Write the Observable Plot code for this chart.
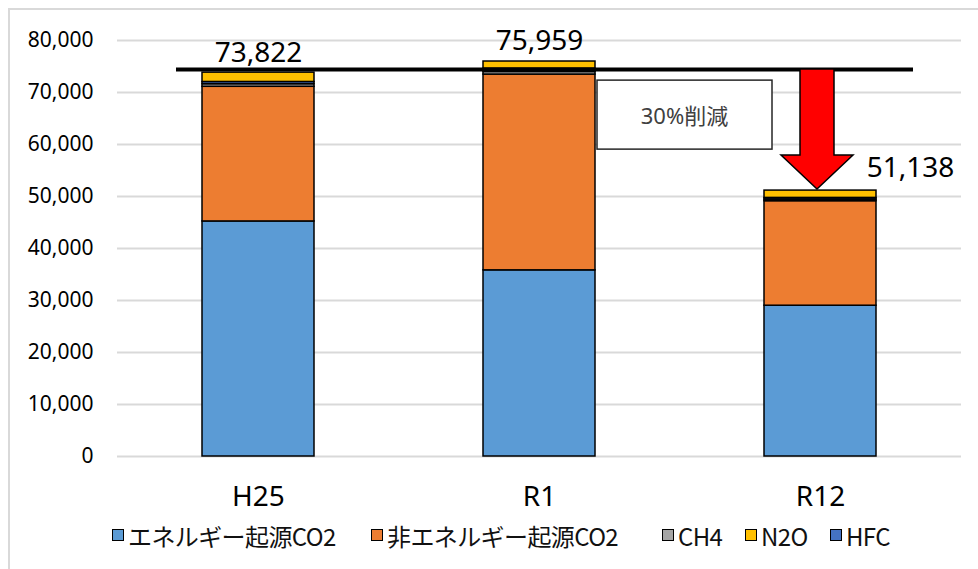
<!DOCTYPE html>
<html>
<head>
<meta charset="utf-8">
<script src="https://cdn.jsdelivr.net/npm/d3@7"></script>
<script src="https://cdn.jsdelivr.net/npm/@observablehq/plot@0.6"></script>
<style>
  html, body { margin: 0; padding: 0; background: #fff; }
  #frame { position: absolute; left: 8px; top: 8px; width: 1000px; height: 600px; border: 2px solid #d9d9d9; box-sizing: border-box; }
  #chart { position: absolute; left: 0; top: 0; }
  #legend { position: absolute; left: 0; top: 520px; width: 978px; height: 30px; font-family: "Noto Sans CJK JP", "Noto Sans", sans-serif; font-size: 24px; color: #111; }
  .item { position: absolute; top: 0; display: flex; align-items: center; height: 30px; white-space: nowrap; letter-spacing: -0.6px; }
  .sw { width: 10px; height: 10px; border: 1.5px solid #000; margin-right: 4px; }
</style>
</head>
<body>
<div id="frame"></div>
<div id="chart"></div>
<div id="legend"></div>
<script>
// ---- data ----
const categories = ["H25", "R1", "R12"];
const seriesNames = ["エネルギー起源CO2", "非エネルギー起源CO2", "CH4", "N2O", "HFC"];
const seriesColors = ["#5B9BD5", "#ED7D31", "#A5A5A5", "#FFC000", "#4472C4"];
const energyCO2 = [45200, 35800, 29000];
const nonEnergyCO2 = [25900, 37650, 20100];
const ch4 = [500, 500, 300];
const n2o = [1822, 1409, 1438];
const hfc = [400, 600, 300];
const totals = [73822, 75959, 51138];
const targetLine = 74400;
const yTicks = [0, 10000, 20000, 30000, 40000, 50000, 60000, 70000, 80000];
const annotationText = "30%削減";

const seriesValues = [energyCO2, nonEnergyCO2, ch4, n2o, hfc];
const rows = [];
seriesNames.forEach((s, i) => categories.forEach((c, j) => rows.push({cat: c, series: s, value: seriesValues[i][j]})));
const totalRows = categories.map((c, j) => ({cat: c, total: totals[j]}));
const stackOrder = ["エネルギー起源CO2", "非エネルギー起源CO2", "CH4", "HFC", "N2O"];
const fmt = d3.format(",");

const chart = Plot.plot({
  width: 978,
  height: 520,
  marginLeft: 117,
  marginRight: 17,
  marginTop: 40,
  marginBottom: 64,
  style: {fontFamily: "'Noto Sans', sans-serif", color: "#000", background: "transparent"},
  x: {domain: categories, paddingInner: 0.6, paddingOuter: 0.3, label: null},
  y: {domain: [0, 80000], ticks: yTicks, label: null},
  color: {domain: seriesNames, range: seriesColors},
  marks: [
    Plot.gridY(yTicks, {stroke: "#d9d9d9", strokeOpacity: 1, strokeWidth: 2}),
    Plot.axisY(yTicks, {tickFormat: fmt, tickSize: 0, tickPadding: 24, fontSize: 21, label: null}),
    Plot.axisX({tickSize: 0, tickPadding: 30, fontSize: 28, label: null}),
    Plot.barY(rows, Plot.stackY({x: "cat", y: "value", fill: "series", order: stackOrder, stroke: "#000", strokeWidth: 1.5})),
    Plot.ruleY([targetLine], {stroke: "#000", strokeWidth: 4, insetLeft: 59, insetRight: 48}),
    Plot.text(totalRows.filter(d => d.cat !== "R12"), {x: "cat", y: "total", text: d => fmt(d.total), dy: -20, fontSize: 28, fill: "#000"}),
    Plot.text(totalRows.filter(d => d.cat === "R12"), {x: "cat", y: "total", text: d => fmt(d.total), dy: -23, dx: 90, fontSize: 28, fill: "#000"})
  ]
});
document.getElementById("chart").appendChild(chart);

// ---- annotations placed through Plot's scales ----
const xs = chart.scale("x"), ys = chart.scale("y");
const svg = d3.select(chart);
const bw = xs.bandwidth;
const yLine = ys.apply(targetLine);
// red arrow from target line down to R12 total
const cx = xs.apply("R12") + bw / 2 - 3;
const tipY = ys.apply(totals[2]) - 1;
const shaftHalf = 17, headHalf = 36, headH = 34;
const pts = [
  [cx - shaftHalf, yLine], [cx + shaftHalf, yLine], [cx + shaftHalf, tipY - headH],
  [cx + headHalf, tipY - headH], [cx, tipY], [cx - headHalf, tipY - headH],
  [cx - shaftHalf, tipY - headH]
];
svg.append("polygon").attr("points", pts.map(p => p.join(",")).join(" "))
  .attr("fill", "#FF0000").attr("stroke", "#000").attr("stroke-width", 1.5).attr("stroke-linejoin", "miter");
// text box
const bx = xs.apply("R1") + bw + 2;
const by = yLine + 11;
const g = svg.append("g");
g.append("rect").attr("x", bx).attr("y", by).attr("width", 175).attr("height", 69)
  .attr("fill", "#fff").attr("stroke", "#262626").attr("stroke-width", 1.5);
g.append("text").attr("x", bx + 87.5).attr("y", by + 35).attr("text-anchor", "middle")
  .attr("dominant-baseline", "central").attr("font-size", 22).attr("fill", "#404040")
  .attr("font-family", "'Noto Sans', 'Noto Sans CJK JP', sans-serif").text(annotationText);

// ---- legend ----
const legendX = [112, 371, 662, 745, 830];
const legend = document.getElementById("legend");
seriesNames.forEach((s, i) => {
  const it = document.createElement("div");
  it.className = "item";
  it.style.left = legendX[i] + "px";
  const sw = document.createElement("div");
  sw.className = "sw";
  sw.style.background = seriesColors[i];
  const t = document.createElement("span");
  t.textContent = s;
  it.appendChild(sw); it.appendChild(t);
  legend.appendChild(it);
});
</script>
</body>
</html>
